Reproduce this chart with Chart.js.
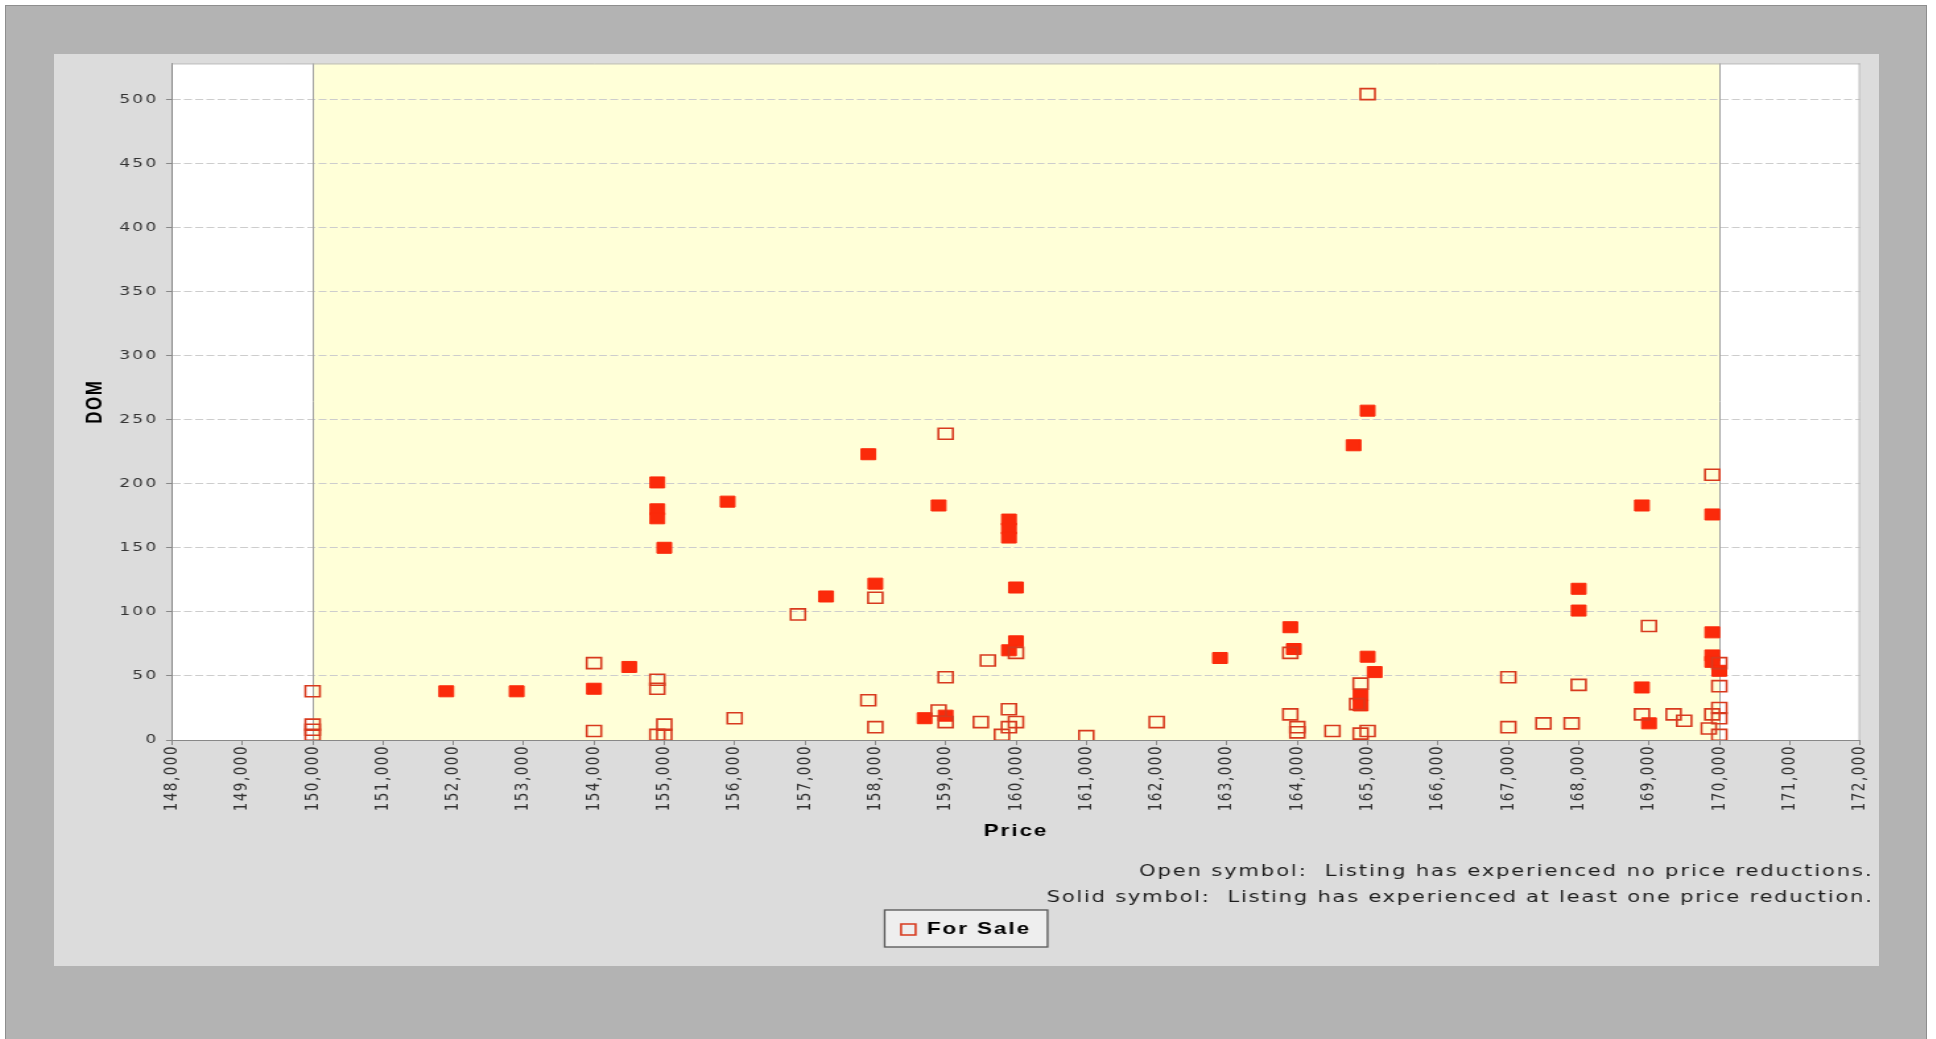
<!DOCTYPE html>
<html>
<head>
<meta charset="utf-8">
<script src="https://cdn.jsdelivr.net/npm/chart.js@4.4.0/dist/chart.umd.min.js"></script>
<style>
html,body{margin:0;padding:0;background:#ffffff;width:1936px;height:1039px;overflow:hidden;}
#frame{position:absolute;left:5px;top:5px;width:1920px;height:1045px;background:#b3b3b3;border:1px solid #8e8e8e;}
#panel{position:absolute;left:54px;top:54px;width:1825px;height:912px;background:#dcdcdc;}
#wrap{position:absolute;left:54px;top:54px;width:1383px;height:912px;transform:scaleX(1.31959);transform-origin:0 0;}
</style>
</head>
<body>
<div id="frame"></div>
<div id="panel"></div>
<div id="wrap"><canvas id="c"></canvas></div>
<script>
// ---- data ----
const seriesLabel = 'For Sale';
const reducedLabel = 'For Sale (reduced)';
const openPrice = [150000,150000,150000,150000,154000,154000,154900,154900,155000,154900,155000,156000,156900,157900,158000,158000,158900,159000,159000,159000,159500,159600,159900,159900,159800,160000,160000,161000,162000,163900,163900,164000,164000,164500,164850,164900,164900,165000,165000,167000,167000,167500,167900,168000,168900,169000,169350,169500,169900,169900,169850,170000,170000,170000,170000,170000];
const openDom = [38,12,8,4,60,7,47,40,12,4,4,17,98,31,111,10,23,239,49,14,14,62,24,10,4,68,14,3,14,68,20,10,6,7,28,44,5,7,504,49,10,13,13,43,20,89,20,15,207,20,9,60,42,25,17,4];
const solidPrice = [151900,152900,154000,154500,154900,154900,154900,155000,155900,157300,157900,158000,158700,158900,159000,159900,159900,159900,160000,160000,159900,162900,163900,163950,164800,165000,165000,165100,164900,164900,168000,168000,168900,168900,169000,169900,169900,169900,169900,170000];
const solidDom = [38,38,40,57,201,180,173,150,186,112,223,122,17,183,19,172,165,158,119,77,70,64,88,71,230,257,65,53,35,27,118,101,183,41,13,176,84,66,61,54];
const xMin = 148000, xMax = 172000, xStep = 1000;
const yMin = 0, yMax = 528, yStep = 50;
const rangeLow = 150000, rangeHigh = 170000;
const axisTitleX = 'Price';
const axisTitleY = 'DOM';
const noteLines = [
  'Open symbol:  Listing has experienced no price reductions.',
  'Solid symbol:  Listing has experienced at least one price reduction.'
];

const toPoints = (xs, ys) => xs.map((x, i) => ({x: x, y: ys[i]}));

const SPACING = '1.5px';
const spacingPlugin = {
  id: 'spacing',
  beforeUpdate(chart) { chart.ctx.letterSpacing = SPACING; },
  beforeDraw(chart) { chart.ctx.letterSpacing = SPACING; }
};

const decorPlugin = {
  id: 'decor',
  afterLayout(chart) {
    const lg = chart.legend;
    if (lg) { lg.left += 6.9; lg.right += 6.9; }
  },
  beforeDraw(chart) {
    const {ctx, chartArea: a, scales: {x}} = chart;
    ctx.save();
    ctx.fillStyle = '#ffffff';
    ctx.fillRect(a.left, a.top, a.width, a.height);
    const l = x.getPixelForValue(rangeLow), r = x.getPixelForValue(rangeHigh);
    ctx.fillStyle = '#ffffd8';
    ctx.fillRect(l, a.top, r - l, a.height);
    const lg = chart.legend;
    if (lg && lg.legendHitBoxes && lg.legendHitBoxes.length) {
      const hb = lg.legendHitBoxes[0];
      const cx = hb.left + hb.width / 2;
      const bw = 123.5, bh = 37;
      const bx = cx - bw / 2, by = hb.top - 11;
      ctx.fillStyle = '#eeeeee';
      ctx.fillRect(bx, by, bw, bh);
      ctx.strokeStyle = '#555555';
      ctx.lineWidth = 1.3;
      ctx.strokeRect(bx, by, bw, bh);
    }
    ctx.restore();
  },
  beforeDatasetsDraw(chart) {
    const {ctx, chartArea: a, scales: {x}} = chart;
    ctx.save();
    ctx.strokeStyle = '#a0a0a0';
    ctx.lineWidth = 1;
    [rangeLow, rangeHigh].forEach(v => {
      const px = Math.round(x.getPixelForValue(v)) + 0.5;
      ctx.beginPath(); ctx.moveTo(px, a.top); ctx.lineTo(px, a.bottom); ctx.stroke();
    });
    ctx.strokeStyle = '#b0b0b0';
    ctx.beginPath();
    ctx.moveTo(a.left, a.top + 0.5); ctx.lineTo(a.right, a.top + 0.5);
    ctx.moveTo(a.right - 0.5, a.top); ctx.lineTo(a.right - 0.5, a.bottom);
    ctx.stroke();
    ctx.restore();
  },
  afterDraw(chart) {
    const {ctx} = chart;
    const xs = chart.scales.x;
    ctx.save();
    ctx.font = '16px "DejaVu Sans"';
    ctx.fillStyle = '#1e1e1e';
    ctx.textAlign = 'right';
    ctx.textBaseline = 'middle';
    const xr = chart.width - 4.2;
    ctx.letterSpacing = '1.4px';
    ctx.fillText(noteLines[0], xr, xs.bottom - 39);
    ctx.letterSpacing = '1.3px';
    ctx.fillText(noteLines[1], xr, xs.bottom - 13);
    ctx.restore();
  }
};

Chart.defaults.font.family = '"DejaVu Sans", sans-serif';

new Chart(document.getElementById('c'), {
  type: 'scatter',
  data: {
    datasets: [
      {
        label: seriesLabel,
        data: toPoints(openPrice, openDom),
        pointStyle: 'rect',
        pointRadius: 7.8,
        pointHoverRadius: 7.8,
        pointBackgroundColor: 'rgba(0,0,0,0)',
        pointBorderColor: '#d83a1e',
        pointBorderWidth: 1.6
      },
      {
        label: reducedLabel,
        data: toPoints(solidPrice, solidDom),
        pointStyle: 'rect',
        pointRadius: 7.8,
        pointHoverRadius: 7.8,
        pointBackgroundColor: '#fb2a0a',
        pointBorderColor: '#fb2a0a',
        pointBorderWidth: 1
      }
    ]
  },
  options: {
    responsive: true,
    maintainAspectRatio: false,
    animation: false,
    events: [],
    layout: {padding: {left: 0, right: 14.4, top: 8, bottom: 18}},
    plugins: {
      legend: {
        position: 'bottom',
        labels: {
          usePointStyle: true,
          boxWidth: 11,
          boxHeight: 11,
          padding: 10,
          color: '#000000',
          font: {family: '"Liberation Sans", Arial, sans-serif', size: 17, weight: 'bold'},
          filter: (item) => item.datasetIndex === 0
        }
      },
      tooltip: {enabled: false}
    },
    scales: {
      x: {
        type: 'linear',
        position: 'bottom',
        min: xMin,
        max: xMax,
        ticks: {
          stepSize: xStep,
          autoSkip: false,
          maxRotation: 90,
          minRotation: 90,
          padding: 0,
          color: '#333333',
          font: {size: 13.5},
          callback: (v) => Number(v).toLocaleString('en-US')
        },
        grid: {drawOnChartArea: false, tickLength: 5, color: '#888888'},
        border: {color: '#888888', width: 1},
        title: {
          display: true,
          text: axisTitleX,
          color: '#000000',
          font: {family: '"Liberation Sans", Arial, sans-serif', size: 17, weight: 'bold'},
          padding: {top: 0, bottom: 69.3}
        },
        afterFit: (s) => { s.height = 171; s.paddingLeft = 0; s.paddingRight = 0; }
      },
      y: {
        type: 'linear',
        min: yMin,
        max: yMax,
        ticks: {stepSize: yStep, padding: 6, color: '#333333', font: {size: 13}},
        grid: {color: '#cdcdcd', tickColor: '#888888', tickLength: 4.5, tickBorderDash: []},
        border: {color: '#888888', width: 1, dash: [6, 2.5]},
        title: {
          display: true,
          text: axisTitleY,
          color: '#000000',
          font: {family: '"Liberation Sans", Arial, sans-serif', size: 17, weight: 'bold'},
          padding: {top: 20.8, bottom: 0}
        },
        afterBuildTicks: (s) => { s.ticks = s.ticks.filter(t => t.value % yStep === 0); },
        afterFit: (s) => { s.width = 89.4; s.paddingTop = 0; s.paddingBottom = 0; }
      }
    }
  },
  plugins: [spacingPlugin, decorPlugin]
});
</script>
</body>
</html>
